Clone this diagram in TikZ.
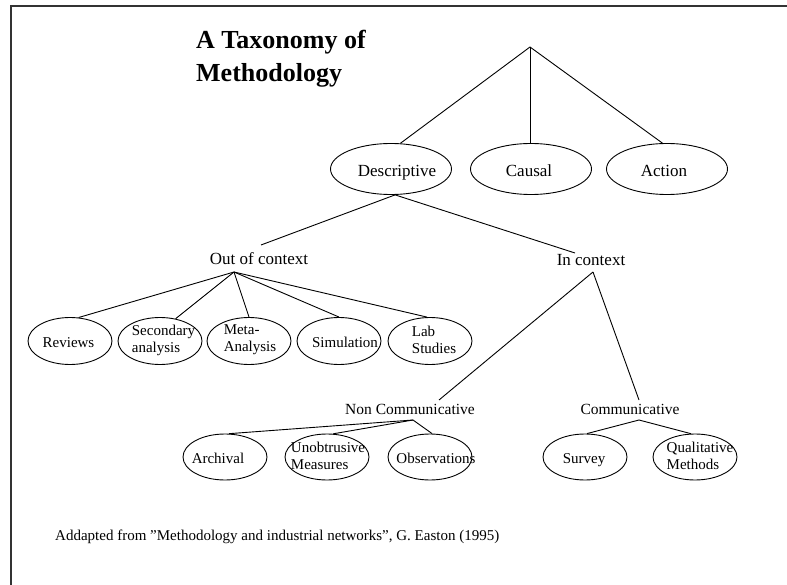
\documentclass[tikz,border=0pt]{standalone}
\usepackage{fontspec}
\setmainfont{Liberation Serif}
\usetikzlibrary{shapes.geometric}

\tikzset{
  frameline/.style={draw=black!80, line width=2pt},
  edge/.style={draw, line width=0.9pt},
  bigoval/.style={draw, ellipse, line width=0.9pt, minimum width=121pt, minimum height=51pt, inner sep=0pt},
  oval/.style={draw, ellipse, line width=0.9pt, minimum width=84pt, minimum height=47pt, inner sep=0pt},
  ovaltext/.style={font=\fontsize{15}{17}\selectfont, align=left, inner sep=0pt},
  onelinetext/.style={font=\fontsize{15}{17}\selectfont, inner sep=0pt, text height=10.5pt, text depth=3.5pt},
  bigtext/.style={font=\fontsize{17}{20}\selectfont, inner sep=0pt, text height=12pt, text depth=4pt},
  cattext/.style={font=\fontsize{17}{20}\selectfont, inner sep=0pt},
  subcattext/.style={font=\fontsize{15.5}{18}\selectfont, inner sep=0pt},
  titletext/.style={font=\fontsize{26}{33}\selectfont\bfseries, align=left, inner sep=0pt},
  notetext/.style={font=\fontsize{15}{18}\selectfont, inner sep=0pt},
}

\begin{document}
\begin{tikzpicture}[x=1pt, y=-1pt]
\useasboundingbox (0,0) rectangle (787,585);

% frame (left and top edges)
\draw[frameline] (11,585) -- (11,6) -- (787,6);

% title
\node[titletext, anchor=north west] (title) at (196,30) {A Taxonomy of\\Methodology};

% root and first level
\coordinate (root) at (530,47);
\node[bigoval] (desc)   at (391,169) {};
\node[bigoval] (causal) at (531,169) {};
\node[bigoval] (action) at (667,169) {};
\node[bigtext] (descT)   at (397,172.5) {Descriptive};
\node[bigtext] (causalT) at (529,172.5) {Causal};
\node[bigtext] (actionT) at (664,172.5) {Action};

\draw[edge] (root) -- (desc.70);
\draw[edge] (root) -- (causal.north -| root);
\draw[edge] (root) -- (action.100);

% context branches
\node[cattext] (ooc) at (259,259) {Out of context};
\node[cattext] (inc) at (591,260) {In context};
\coordinate (oocIn) at (261,245);
\coordinate (oocJ)  at (234,272);
\coordinate (incIn) at (575,253);
\coordinate (incJ)  at (593,272);

\draw[edge] (desc.-81) -- (oocIn);
\draw[edge] (desc.-81) -- (incIn);

% out of context methods
\node[oval] (rev)  at (70,341)  {};
\node[oval] (sec)  at (160,341) {};
\node[oval] (meta) at (249,341) {};
\node[oval] (sim)  at (339,341) {};
\node[oval] (lab)  at (430,341) {};
\node[onelinetext] (revT)  at (68.5,344) {Reviews};
\node[ovaltext] (secT)  at (163.5,340) {Secondary\\analysis};
\node[ovaltext] (metaT) at (250,340) {Meta-\\Analysis};
\node[onelinetext] (simT)  at (345,344) {Simulation};
\node[ovaltext] (labT)  at (434,340) {Lab\\Studies};

\draw[edge] (oocJ) -- (rev.70);
\draw[edge] (oocJ) -- (sec.55);
\draw[edge] (oocJ) -- (meta.north);
\draw[edge] (oocJ) -- (sim.north);
\draw[edge] (oocJ) -- (lab.97);

% in context branches
\node[subcattext] (ncom) at (410,409) {Non Communicative};
\node[subcattext] (com)  at (630,409) {Communicative};
\coordinate (ncIn) at (439,400);
\coordinate (ncJ)  at (413,420);
\coordinate (cIn)  at (639,400);
\coordinate (cJ)   at (639,420);

\draw[edge] (incJ) -- (ncIn);
\draw[edge] (incJ) -- (cIn);

% in context methods
\node[oval, minimum height=46pt] (arch) at (225,457) {};
\node[oval, minimum height=46pt] (unob) at (327,457) {};
\node[oval, minimum height=46pt] (obs)  at (430,457) {};
\node[oval, minimum height=46pt] (surv) at (585,457) {};
\node[oval, minimum height=46pt] (qual) at (695,457) {};
\node[onelinetext] (archT) at (218,460) {Archival};
\node[ovaltext] (unobT) at (328,456) {Unobtrusive\\Measures};
\node[onelinetext] (obsT)  at (436,460) {Observations};
\node[onelinetext] (survT) at (584,460) {Survey};
\node[ovaltext] (qualT) at (700,456) {Qualitative\\Methods};

\draw[edge] (ncJ) -- (arch.80);
\draw[edge] (ncJ) -- (unob.75);
\draw[edge] (ncJ) -- (obs.85);
\draw[edge] (cJ) -- (surv.85);
\draw[edge] (cJ) -- (qual.100);

% source note
\node[notetext, anchor=base west] (note) at (55,540)
  {Addapted from ”Methodology and industrial networks”, G. Easton (1995)};
\end{tikzpicture}
\end{document}
